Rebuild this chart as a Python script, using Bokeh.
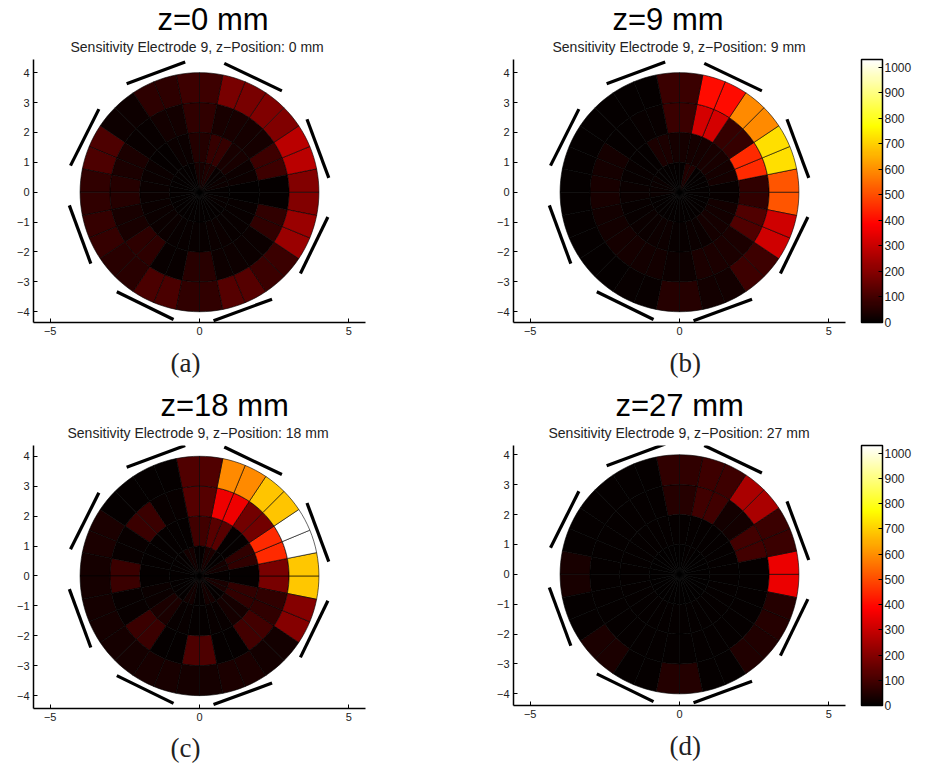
import numpy as np
from bokeh.embed import file_html
from bokeh.layouts import column, row
from bokeh.models import ColorBar, ColumnDataSource, FixedTicker, LinearColorMapper, Range1d, Title
from bokeh.plotting import figure
from bokeh.resources import INLINE

# ring edges of the electrode cross-section
ring_edges = [0, 1, 2, 3, 4]
# each list: 16 sector-pair values, starting at 0 deg and running counter-clockwise
z0_ring1 = [5, 20, 12, 45, 35, 8, 6, 6, 6, 6, 6, 6, 6, 6, 6, 12]
z0_ring2 = [3, 20, 35, 80, 50, 15, 8, 15, 15, 15, 15, 12, 12, 15, 12, 12]
z0_ring3 = [8, 90, 30, 35, 70, 25, 10, 40, 55, 35, 65, 12, 60, 20, 15, 70]
z0_ring4 = [195, 280, 190, 180, 90, 65, 20, 115, 70, 80, 60, 110, 70, 125, 85, 230]

z9_ring1 = [5, 8, 8, 50, 8, 6, 6, 15, 15, 6, 6, 6, 6, 6, 8, 8]
z9_ring2 = [10, 30, 35, 30, 30, 40, 8, 10, 15, 10, 15, 20, 12, 15, 30, 25]
z9_ring3 = [70, 450, 80, 320, 85, 10, 8, 30, 35, 25, 30, 28, 20, 40, 40, 120]
z9_ring4 = [512, 722, 595, 400, 85, 8, 8, 8, 8, 8, 8, 10, 55, 25, 90, 310]

z18_ring1 = [5, 30, 5, 40, 8, 30, 5, 5, 5, 5, 5, 25, 5, 30, 5, 40]
z18_ring2 = [5, 70, 5, 130, 95, 8, 8, 8, 8, 15, 40, 12, 8, 10, 30, 75]
z18_ring3 = [180, 450, 170, 360, 125, 10, 85, 10, 85, 10, 85, 8, 115, 8, 100, 70]
z18_ring4 = [685, 1030, 680, 595, 120, 8, 8, 40, 30, 30, 30, 35, 30, 40, 25, 200]

z27_ring1 = [4, 4, 4, 6, 4, 4, 4, 4, 4, 4, 4, 4, 4, 4, 4, 4]
z27_ring2 = [5, 8, 5, 6, 5, 5, 5, 5, 5, 5, 5, 5, 5, 5, 5, 5]
z27_ring3 = [8, 100, 25, 95, 55, 6, 6, 6, 6, 6, 6, 6, 6, 6, 6, 6]
z27_ring4 = [355, 85, 255, 90, 70, 6, 6, 6, 35, 6, 40, 6, 50, 8, 45, 55]

# electrode plates, data coordinates
electrode_x0 = [-2.44, 0.83, 3.60, 4.30, 2.43, -0.87, -3.64, -4.32]
electrode_y0 = [3.63, 4.31, 2.44, -0.83, -3.58, -4.26, -2.39, 0.89]
electrode_x1 = [-0.48, 2.76, 4.33, 3.38, 0.47, -2.77, -4.36, -3.37]
electrode_y1 = [4.36, 3.39, 0.48, -2.72, -4.30, -3.33, -0.44, 2.78]

panel_titles = ["z=0 mm", "z=9 mm", "z=18 mm", "z=27 mm"]
panel_subtitles = [
    "Sensitivity Electrode 9, z\u2212Position: 0 mm",
    "Sensitivity Electrode 9, z\u2212Position: 9 mm",
    "Sensitivity Electrode 9, z\u2212Position: 18 mm",
    "Sensitivity Electrode 9, z\u2212Position: 27 mm",
]
panel_captions = ["(a)", "(b)", "(c)", "(d)"]
x_ticks = [-5, 0, 5]
y_ticks = [-4, -3, -2, -1, 0, 1, 2, 3, 4]
bar_ticks = [0, 100, 200, 300, 400, 500, 600, 700, 800, 900, 1000]
bar_max = 1030


def hot(n):
    out = []
    for i in range(n):
        t = (i + 1) / n
        r = min(1, t / 0.375)
        g = min(1, max(0, (t - 0.375) / 0.375))
        b = min(1, max(0, (t - 0.75) / 0.25))
        out.append("#%02x%02x%02x" % (round(r * 255), round(g * 255), round(b * 255)))
    return out


palette = hot(256)
mapper = LinearColorMapper(palette=palette, low=0, high=bar_max)
FONT = "Liberation Sans"


def panel(rings, idx, ylim, frame_h, b_top, b_bottom, title_off, sub_off, cap_off, cap_stand, cbar):
    p = figure(
        output_backend="svg", toolbar_location=None,
        frame_width=332, frame_height=frame_h,
        x_range=Range1d(-5.56, 5.56), y_range=Range1d(*ylim),
        min_border_left=33, min_border_right=(71 if cbar else 115),
        min_border_top=b_top, min_border_bottom=b_bottom,
        outline_line_color=None,
    )
    p.grid.visible = False
    xs, ys, vals = [], [], []
    for ring_i, vv in enumerate(rings):
        r0, r1 = ring_edges[ring_i], ring_edges[ring_i + 1]
        for k, v in enumerate(vv):
            for side in (-1, 0):
                a0 = np.deg2rad(k * 22.5 + side * 11.25)
                arc = a0 + np.deg2rad(11.25) * np.linspace(0, 1, 5)
                xs.append(np.concatenate([r1 * np.cos(arc), r0 * np.cos(arc[::-1])]).tolist())
                ys.append(np.concatenate([r1 * np.sin(arc), r0 * np.sin(arc[::-1])]).tolist())
                vals.append(v)
    src = ColumnDataSource(dict(xs=xs, ys=ys, v=vals))
    p.patches("xs", "ys", source=src, fill_color={"field": "v", "transform": mapper},
              line_color="black", line_width=0.8, line_alpha=0.75)
    p.segment(electrode_x0, electrode_y0, electrode_x1, electrode_y1, line_color="black", line_width=3.2)

    for ax in (p.xaxis[0], p.yaxis[0]):
        ax.axis_line_width = 1.5
        ax.major_tick_in = 4
        ax.major_tick_out = 0
        ax.minor_tick_line_color = None
        ax.major_tick_line_width = 1
        ax.major_label_text_font = FONT
        ax.major_label_text_font_size = "11px"
        ax.major_label_text_color = "#222222"
    p.xaxis[0].ticker = FixedTicker(ticks=x_ticks)
    p.yaxis[0].ticker = FixedTicker(ticks=y_ticks)
    p.xaxis[0].major_label_overrides = {t: str(t).replace("-", "\u2212") for t in x_ticks}
    p.yaxis[0].major_label_overrides = {t: str(t).replace("-", "\u2212") for t in y_ticks}
    p.xaxis[0].major_label_standoff = 4
    p.yaxis[0].major_label_standoff = 4

    p.add_layout(Title(text=panel_subtitles[idx], align="left", offset=sub_off, standoff=10,
                       text_font=FONT, text_font_size="14px", text_font_style="normal", text_color="#222222"), "above")
    p.add_layout(Title(text=panel_titles[idx], align="left", offset=title_off, standoff=-11,
                       text_font=FONT, text_font_size="31px", text_font_style="normal", text_color="black"), "above")
    p.add_layout(Title(text=panel_captions[idx], align="left", offset=cap_off, standoff=cap_stand,
                       text_font="Liberation Serif", text_font_size="27px", text_font_style="normal", text_color="#222222"), "below")
    if cbar:
        cb = ColorBar(color_mapper=mapper, width=21, height=frame_h, padding=0, location=(16, 0),
                      ticker=FixedTicker(ticks=bar_ticks), major_tick_in=4, major_tick_line_color="black",
                      minor_tick_line_color=None, bar_line_color="black", bar_line_width=1.5,
                      border_line_color=None, background_fill_color=None,
                      major_label_text_font=FONT, major_label_text_font_size="12px",
                      major_label_text_color="#222222", label_standoff=2)
        p.add_layout(cb, "right")
    return p


pa = panel([z0_ring1, z0_ring2, z0_ring3, z0_ring4], 0, (-4.36, 4.44), 263, 59, 64, 124, 37, 137, 17, False)
pb = panel([z9_ring1, z9_ring2, z9_ring3, z9_ring4], 1, (-4.36, 4.44), 263, 59, 64, 99, 39, 156, 17, True)
pc = panel([z18_ring1, z18_ring2, z18_ring3, z18_ring4], 2, (-4.43, 4.36), 263, 58, 62, 127, 34, 137, 15, False)
pd = panel([z27_ring1, z27_ring2, z27_ring3, z27_ring4], 3, (-4.39, 4.31), 260, 59, 64, 102, 35, 156, 17, True)

page = column(row(pa, pb, spacing=0), row(pc, pd, spacing=0), spacing=0)
open("out.html", "w").write(file_html(page, INLINE))
